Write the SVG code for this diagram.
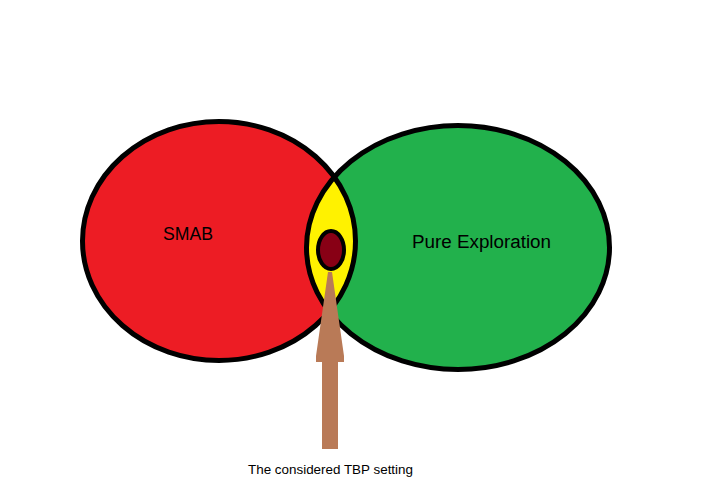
<svg xmlns="http://www.w3.org/2000/svg" width="706" height="499" viewBox="0 0 706 499">
<style>
.outline{fill:none;stroke:#000;stroke-width:5}
.lbl{font-family:"Liberation Sans",Arial,sans-serif;fill:#000}
</style>
<defs>
<clipPath id="redClip"><ellipse cx="219" cy="241" rx="136.5" ry="119.5"/></clipPath>
</defs>
<rect width="706" height="499" fill="#fff"/>
<g id="smab">
<ellipse cx="219" cy="241" rx="136.5" ry="119.5" fill="#ed1c24"/>
</g>
<g id="pure-exploration">
<ellipse cx="458" cy="247.5" rx="151.5" ry="122" fill="#22b14c"/>
</g>
<g id="intersection">
<ellipse cx="458" cy="247.5" rx="151.5" ry="122" fill="#fff200" clip-path="url(#redClip)"/>
</g>
<g id="outlines">
<ellipse class="outline" cx="219" cy="241" rx="136.5" ry="119.5"/>
<ellipse class="outline" cx="458" cy="247.5" rx="151.5" ry="122"/>
<text class="lbl" x="163" y="240" font-size="18" textLength="50" lengthAdjust="spacingAndGlyphs">SMAB</text>
<text class="lbl" x="412" y="248" font-size="18" textLength="139" lengthAdjust="spacingAndGlyphs">Pure Exploration</text>
</g>
<g id="tbp-setting">
<ellipse cx="331" cy="250" rx="13" ry="19" fill="#880015" stroke="#000" stroke-width="4"/>
</g>
<g id="connectors">
<polygon points="328,272 332,272 344,356 344,362 338,362 338,449 322,449 322,362 316,362 316,356" fill="#b97a57"/>
</g>
<g id="caption">
<text class="lbl" x="248" y="474" font-size="13" textLength="165" lengthAdjust="spacingAndGlyphs">The considered TBP setting</text>
</g>
</svg>
